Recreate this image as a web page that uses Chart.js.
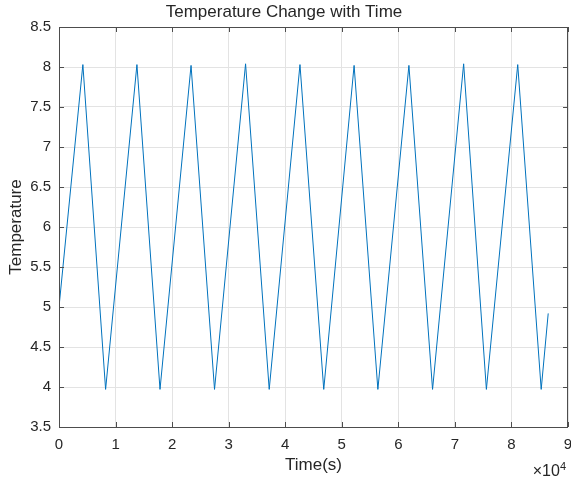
<!DOCTYPE html>
<html>
<head>
<meta charset="utf-8">
<script src="https://cdn.jsdelivr.net/npm/chart.js@4/dist/chart.umd.min.js"></script>
<style>
  html, body { margin: 0; padding: 0; background: #ffffff; }
  #wrap { width: 571px; height: 481px; }
</style>
</head>
<body>
<div id="wrap"><canvas id="c" width="571" height="481"></canvas></div>
<script>
// Data
const timeSeconds = [0, 4220, 8240, 13780, 17860, 23350, 27500, 32990, 37170, 42610, 46810, 52180, 56380, 61870, 66050, 71550, 75570, 81110, 85260, 86500];
const temperature = [5.0, 8.03, 3.97, 8.03, 3.97, 8.02, 3.97, 8.04, 3.97, 8.03, 3.97, 8.02, 3.97, 8.02, 3.97, 8.04, 3.97, 8.03, 3.97, 4.92];
const xTickValues = [0, 10000, 20000, 30000, 40000, 50000, 60000, 70000, 80000, 90000];
const yTickValues = [3.5, 4, 4.5, 5, 5.5, 6, 6.5, 7, 7.5, 8, 8.5];

const chartTitle = 'Temperature Change with Time';
const xLabel = 'Time(s)';
const yLabel = 'Temperature';

const FONT = '"Liberation Sans", Arial, Helvetica, sans-serif';
const AXIS_COLOR = '#4d4d4d';
const TEXT_COLOR = '#262626';

const points = timeSeconds.map((t, i) => ({ x: t, y: temperature[i] }));

const matlabAxes = {
  id: 'matlabAxes',
  afterDatasetsDraw(chart) {
    const { ctx, chartArea: a, scales } = chart;
    const len = 5;
    ctx.save();
    ctx.strokeStyle = AXIS_COLOR;
    ctx.lineWidth = 1;
    ctx.beginPath();
    xTickValues.forEach(v => {
      const px = Math.round(scales.x.getPixelForValue(v)) + 0.5;
      ctx.moveTo(px, a.bottom); ctx.lineTo(px, a.bottom - len);
      ctx.moveTo(px, a.top); ctx.lineTo(px, a.top + len);
    });
    yTickValues.forEach(v => {
      const py = Math.round(scales.y.getPixelForValue(v)) + 0.5;
      ctx.moveTo(a.left, py); ctx.lineTo(a.left + len, py);
      ctx.moveTo(a.right, py); ctx.lineTo(a.right - len, py);
    });
    ctx.stroke();
    ctx.strokeRect(Math.round(a.left) + 0.5, Math.round(a.top) + 0.5,
                   Math.round(a.right - a.left) - 1, Math.round(a.bottom - a.top));
    // exponent label
    ctx.fillStyle = TEXT_COLOR;
    ctx.textBaseline = 'alphabetic';
    ctx.textAlign = 'right';
    ctx.font = '11px ' + FONT;
    ctx.fillText('4', a.right - 2, 470);
    const w4 = ctx.measureText('4').width;
    ctx.font = '16px ' + FONT;
    ctx.fillText('\u00d710', a.right - 2 - w4, 476);
    ctx.restore();
  }
};

new Chart(document.getElementById('c'), {
  type: 'scatter',
  data: {
    datasets: [{
      data: points,
      showLine: true,
      borderColor: '#0072BD',
      backgroundColor: '#0072BD',
      borderWidth: 1,
      pointRadius: 0,
      tension: 0
    }]
  },
  options: {
    responsive: false,
    animation: false,
    layout: { padding: { left: 0, right: 3, top: 0, bottom: 0 } },
    plugins: {
      legend: { display: false },
      tooltip: { enabled: false },
      title: {
        display: true,
        text: chartTitle,
        color: TEXT_COLOR,
        font: { family: FONT, size: 17, weight: 'normal', lineHeight: 1.2 },
        padding: { top: 2.5, bottom: 4.1 }
      }
    },
    scales: {
      x: {
        type: 'linear',
        min: 0, max: 90000,
        afterBuildTicks(scale) { scale.ticks = xTickValues.map(v => ({ value: v })); },
        afterFit(scale) { scale.height = 54; scale.paddingLeft = 0; scale.paddingRight = 0; },
        ticks: {
          color: TEXT_COLOR,
          font: { family: FONT, size: 15 },
          padding: 9,
          maxRotation: 0,
          callback: v => String(v / 10000)
        },
        grid: { color: '#e3e3e3', drawTicks: false, lineWidth: 1 },
        border: { display: false },
        title: {
          display: true, text: xLabel, color: TEXT_COLOR,
          font: { family: FONT, size: 17, lineHeight: 1.2 },
          padding: { top: 0, bottom: 5 }
        }
      },
      y: {
        type: 'linear',
        min: 3.5, max: 8.5,
        afterBuildTicks(scale) { scale.ticks = yTickValues.map(v => ({ value: v })); },
        afterFit(scale) { scale.width = 59; scale.paddingTop = 0; scale.paddingBottom = 0; },
        ticks: {
          color: TEXT_COLOR,
          font: { family: FONT, size: 15 },
          padding: 8,
          callback: v => String(v)
        },
        grid: { color: '#e3e3e3', drawTicks: false, lineWidth: 1 },
        border: { display: false },
        title: {
          display: true, text: yLabel, color: TEXT_COLOR,
          font: { family: FONT, size: 17, lineHeight: 1.2 },
          padding: { top: 6, bottom: 0 }
        }
      }
    }
  },
  plugins: [matlabAxes]
});
</script>
</body>
</html>
